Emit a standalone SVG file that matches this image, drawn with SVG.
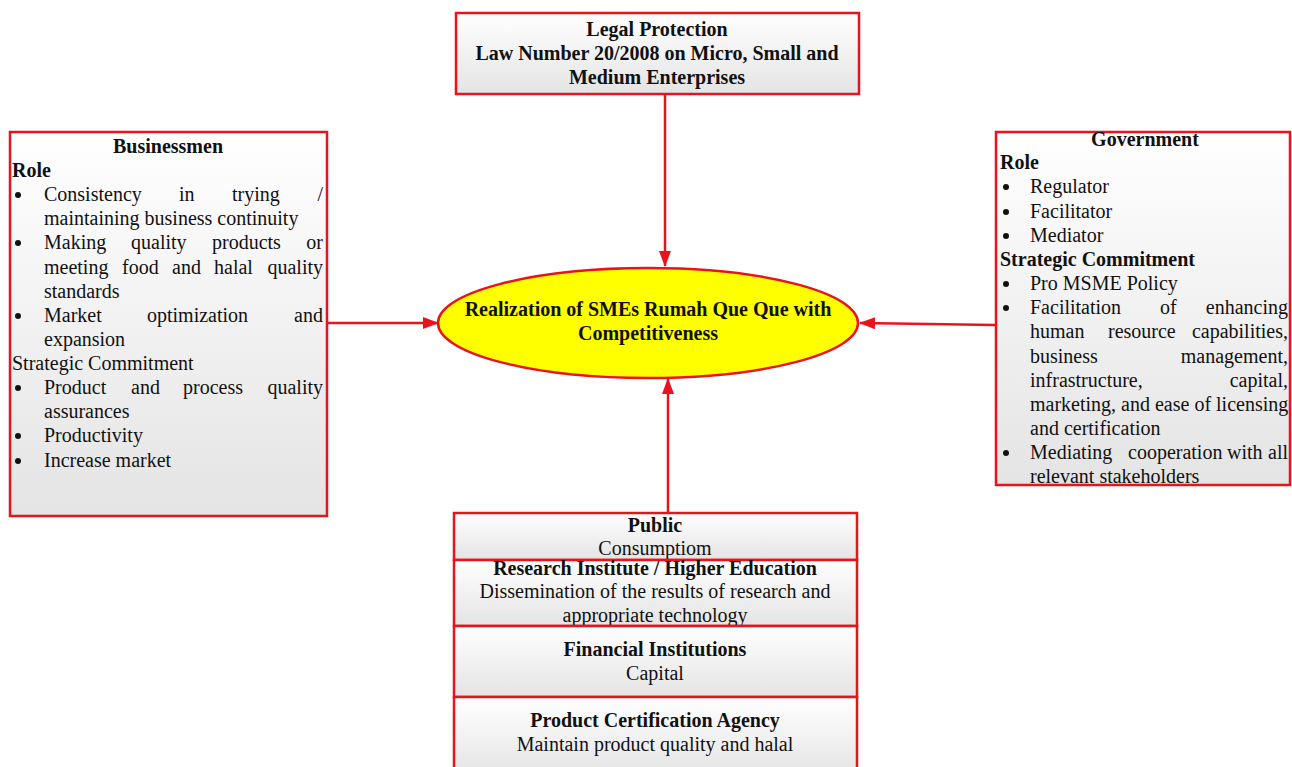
<svg xmlns="http://www.w3.org/2000/svg" width="1292" height="767" viewBox="0 0 1292 767">
<defs>
<linearGradient id="g" x1="0" y1="0" x2="0" y2="1">
<stop offset="0" stop-color="#ffffff"/>
<stop offset="1" stop-color="#e4e4e4"/>
</linearGradient>
<marker id="ah" markerWidth="16" markerHeight="12" refX="15" refY="6" orient="auto" markerUnits="userSpaceOnUse">
<path d="M0,0 L16,6 L0,12 Z" fill="#e8141c"/>
</marker>
</defs>
<style>
.box{fill:url(#g);stroke:#e8141c;stroke-width:2.5}
.t{font-family:"Liberation Serif","Times New Roman",serif;font-size:20px;fill:#111}
.b{font-weight:bold}
.c{text-anchor:middle}
.e{text-anchor:end}
.bu{fill:#111}
.conn{stroke:#e8141c;stroke-width:2.5;fill:none;marker-end:url(#ah)}
</style>
<rect width="1292" height="767" fill="#ffffff"/>

<g id="connectors">
<line class="conn" x1="665" y1="95" x2="665" y2="266"/>
<line class="conn" x1="327" y1="323" x2="438" y2="323"/>
<line class="conn" x1="995" y1="325" x2="860" y2="323"/>
<line class="conn" x1="668" y1="512" x2="668" y2="379"/>
</g>

<g id="legal">
<rect class="box" x="456" y="13" width="403" height="81"/>
<text class="t b c" x="657" y="36">Legal Protection</text>
<text class="t b c" x="657" y="60">Law Number 20/2008 on Micro, Small and</text>
<text class="t b c" x="657" y="84">Medium Enterprises</text>
</g>

<g id="center">
<ellipse cx="648" cy="323" rx="210" ry="55" fill="#ffff00" stroke="#e8141c" stroke-width="2.5"/>
<text class="t b c" x="648" y="316">Realization of SMEs Rumah Que Que with</text>
<text class="t b c" x="648" y="340">Competitiveness</text>
</g>

<g id="businessmen">
<rect class="box" x="10" y="132" width="317" height="384"/>
<text class="t b c" x="168" y="153">Businessmen</text>
<text class="t b" x="12" y="177">Role</text>
<g class="bu">
<circle cx="18" cy="195" r="3"/>
<circle cx="18" cy="243" r="3"/>
<circle cx="18" cy="316" r="3"/>
<circle cx="18" cy="388" r="3"/>
<circle cx="18" cy="436" r="3"/>
<circle cx="18" cy="461" r="3"/>
</g>
<g class="t">
<text x="44" y="201">Consistency</text><text x="179" y="201">in</text><text x="232" y="201">trying</text><text class="e" x="323" y="201">/</text>
<text x="44" y="225">maintaining business continuity</text>
<text x="44" y="249">Making</text><text x="131" y="249">quality</text><text x="212" y="249">products</text><text class="e" x="323" y="249">or</text>
<text x="44" y="274">meeting</text><text x="122" y="274">food</text><text x="172" y="274">and</text><text x="214" y="274">halal</text><text class="e" x="323" y="274">quality</text>
<text x="44" y="298">standards</text>
<text x="44" y="322">Market</text><text x="147" y="322">optimization</text><text class="e" x="323" y="322">and</text>
<text x="44" y="346">expansion</text>
<text x="12" y="370">Strategic Commitment</text>
<text x="44" y="394">Product</text><text x="131" y="394">and</text><text x="183" y="394">process</text><text class="e" x="323" y="394">quality</text>
<text x="44" y="418">assurances</text>
<text x="44" y="442">Productivity</text>
<text x="44" y="467">Increase market</text>
</g>
</g>

<g id="government">
<rect class="box" x="996" y="132" width="294" height="353"/>
<text class="t b c" x="1145" y="146">Government</text>
<text class="t b" x="1000" y="169">Role</text>
<g class="bu">
<circle cx="1006" cy="187" r="3"/>
<circle cx="1006" cy="212" r="3"/>
<circle cx="1006" cy="236" r="3"/>
<circle cx="1006" cy="284" r="3"/>
<circle cx="1006" cy="308" r="3"/>
<circle cx="1006" cy="453" r="3"/>
</g>
<g class="t">
<text x="1030" y="193">Regulator</text>
<text x="1030" y="218">Facilitator</text>
<text x="1030" y="242">Mediator</text>
</g>
<text class="t b" x="1000" y="266">Strategic Commitment</text>
<g class="t">
<text x="1030" y="290">Pro MSME Policy</text>
<text x="1030" y="314">Facilitation</text><text x="1160" y="314">of</text><text class="e" x="1288" y="314">enhancing</text>
<text x="1030" y="338">human</text><text x="1108" y="338">resource</text><text class="e" x="1288" y="338">capabilities,</text>
<text x="1030" y="363">business</text><text class="e" x="1288" y="363">management,</text>
<text x="1030" y="387">infrastructure,</text><text class="e" x="1288" y="387">capital,</text>
<text x="1030" y="411">marketing, and ease of licensing</text>
<text x="1030" y="435">and certification</text>
<text x="1030" y="459">Mediating</text><text x="1128" y="459">cooperation</text><text x="1227" y="459">with</text><text class="e" x="1288" y="459">all</text>
<text x="1030" y="483">relevant stakeholders</text>
</g>
</g>

<g id="public">
<rect class="box" x="454" y="513" width="403" height="47"/>
<text class="t b c" x="655" y="532">Public</text>
<text class="t c" x="655" y="555">Consumptiom</text>
</g>
<g id="research">
<rect class="box" x="454" y="560" width="403" height="66"/>
<text class="t b c" x="655" y="575">Research Institute / Higher Education</text>
<text class="t c" x="655" y="598">Dissemination of the results of research and</text>
<text class="t c" x="655" y="622">appropriate technology</text>
</g>
<g id="financial">
<rect class="box" x="454" y="626" width="403" height="71"/>
<text class="t b c" x="655" y="656">Financial Institutions</text>
<text class="t c" x="655" y="680">Capital</text>
</g>
<g id="certification">
<rect class="box" x="454" y="697" width="403" height="80"/>
<text class="t b c" x="655" y="727">Product Certification Agency</text>
<text class="t c" x="655" y="751">Maintain product quality and halal</text>
</g>
</svg>
